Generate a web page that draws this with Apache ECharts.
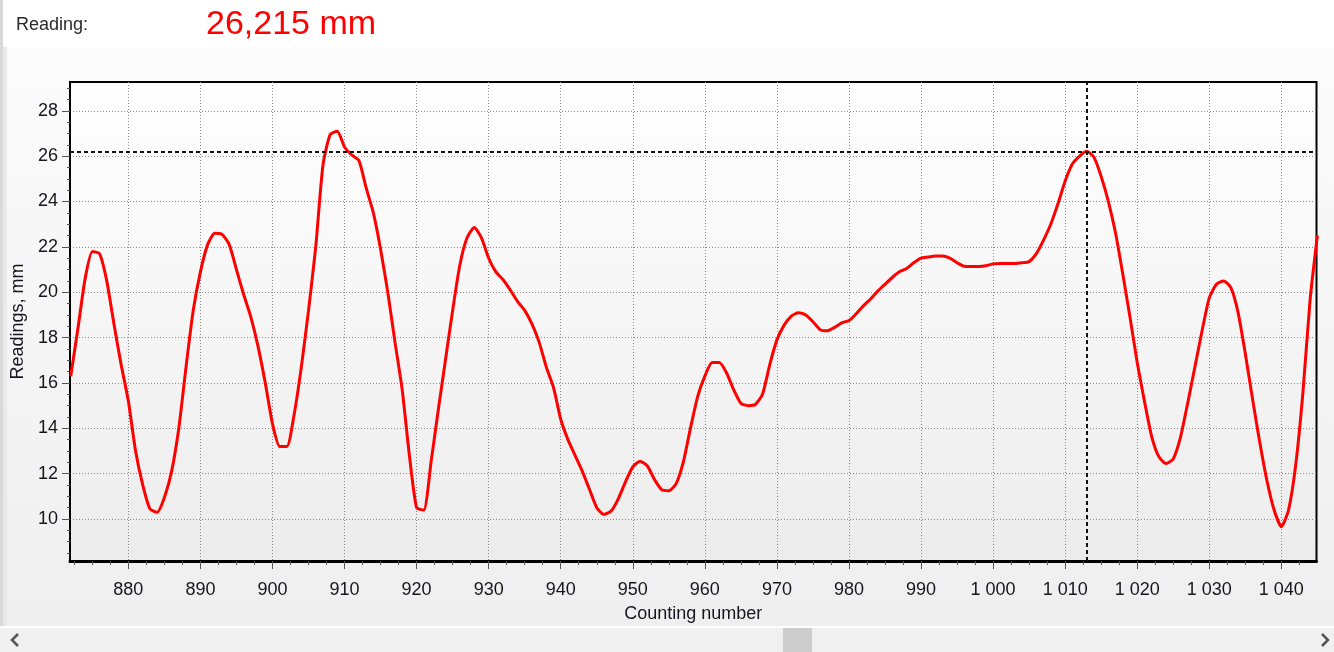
<!DOCTYPE html>
<html>
<head>
<meta charset="utf-8">
<title>Readings</title>
<script src="https://cdn.jsdelivr.net/npm/echarts@6/dist/echarts.min.js"></script>
<style>
  html, body { margin: 0; padding: 0; }
  #chart {
    width: 1334px;
    height: 652px;
    background: linear-gradient(#ffffff 0, #ffffff 47px, #fbfbfb 48px, #efefef 626px);
  }
</style>
</head>
<body>
<div id="chart"></div>
<script>
// counting numbers start here and go up by one per reading
const firstCount = 872;
const readings = [
  16.3, 18.4, 20.6, 21.8, 21.7, 20.5, 18.6, 16.8, 15.2, 13.0,
  11.5, 10.45, 10.3, 10.95, 12.1, 14.0, 16.7, 19.2, 20.9, 22.1,
  22.6, 22.55, 22.1, 21.0, 19.9, 18.9, 17.6, 16.0, 14.2, 13.2,
  13.2, 14.6, 16.7, 19.2, 22.0, 25.6, 26.95, 27.1, 26.4, 26.05,
  25.8, 24.6, 23.5, 21.9, 20.0, 17.8, 15.7, 12.8, 10.5, 10.4,
  12.5, 14.8, 17.0, 19.2, 21.2, 22.4, 22.86, 22.4, 21.5, 20.9,
  20.55, 20.1, 19.6, 19.2, 18.6, 17.8, 16.7, 15.8, 14.4, 13.5,
  12.8, 12.1, 11.3, 10.5, 10.2, 10.35, 10.9, 11.65, 12.3, 12.55,
  12.35, 11.75, 11.3, 11.25, 11.55, 12.5, 14.0, 15.4, 16.3, 16.9,
  16.9, 16.45, 15.7, 15.1, 15.0, 15.05, 15.5, 16.8, 17.9, 18.55,
  18.95, 19.1, 19.0, 18.7, 18.35, 18.3, 18.45, 18.65, 18.75, 19.05,
  19.4, 19.7, 20.05, 20.35, 20.65, 20.9, 21.05, 21.3, 21.5, 21.55,
  21.6, 21.6, 21.5, 21.3, 21.15, 21.14, 21.14, 21.17, 21.25, 21.27,
  21.27, 21.27, 21.3, 21.35, 21.7, 22.3, 23.0, 23.9, 24.9, 25.65,
  26.0, 26.215, 25.95, 25.1, 24.0, 22.6, 20.8, 18.9, 16.9, 15.2,
  13.65, 12.75, 12.45, 12.65, 13.6, 15.1, 16.7, 18.3, 19.75, 20.35,
  20.5, 20.2, 19.1, 17.3, 15.3, 13.4, 11.7, 10.4, 9.66, 10.4,
  12.4, 15.6, 19.7, 22.5
];
const counts = readings.map((_, i) => firstCount + i);

const cursorCount = 1013;
const cursorReading = readings[cursorCount - firstCount];

const xTicks = [880, 890, 900, 910, 920, 930, 940, 950, 960, 970, 980, 990, 1000, 1010, 1020, 1030, 1040];
const yTicks = [10, 12, 14, 16, 18, 20, 22, 24, 26, 28];
const xRange = [871.9, 1044.88];
const yRange = [8.15, 29.27];

// minor ticks: 4 per major step, across the whole visible range
const minorTicks = (ticks, [lo, hi]) => {
  const step = (ticks[1] - ticks[0]) / 4;
  const out = [];
  for (let v = ticks[0] - step * Math.floor((ticks[0] - lo) / step); v <= hi + 1e-9; v += step) {
    if (!ticks.includes(Math.round(v * 100) / 100)) out.push(v);
  }
  return out;
};

const FONT = '"Liberation Sans", Arial, sans-serif';
const TEXT = '#16161e';
const GRID_LINE = { color: '#8a8a8a', type: [1, 2] };

const fmtCount = (v) => String(v).replace(/\B(?=(\d{3})+(?!\d))/g, ' ');
const fmtReading = (v) => v.toFixed(3).replace('.', ',') + ' mm';

const chart = echarts.init(document.getElementById('chart'));

const minorAxis = (extra) => Object.assign({
  type: 'value',
  axisLine: { show: false },
  axisLabel: { show: false },
  splitLine: { show: false },
}, extra);

chart.setOption({
  animation: false,
  textStyle: { fontFamily: FONT },
  title: [
    {
      text: 'Reading:',
      left: 16,
      top: 16,
      padding: 0,
      textStyle: { fontSize: 18, fontWeight: 'normal', color: '#2a2a2a', fontFamily: FONT },
    },
    {
      text: fmtReading(cursorReading),
      left: 206,
      top: 8,
      padding: 0,
      textStyle: { fontSize: 34, fontWeight: 'normal', color: '#ff0000', fontFamily: FONT },
    },
  ],
  grid: {
    left: 70,
    right: 17.5,
    top: 82,
    bottom: 91,
    show: true,
    borderColor: '#000',
    borderWidth: 2,
    backgroundColor: new echarts.graphic.LinearGradient(0, 0, 0, 1, [
      { offset: 0, color: '#ffffff' },
      { offset: 1, color: '#ececec' },
    ]),
  },
  xAxis: [
    {
      type: 'value',
      position: 'bottom',
      min: xRange[0],
      max: xRange[1],
      splitNumber: 17,
      minInterval: 10,
      maxInterval: 10,
      name: 'Counting number',
      nameLocation: 'middle',
      nameGap: 44,
      nameTextStyle: { fontSize: 18, color: TEXT, fontFamily: FONT },
      axisLine: { lineStyle: { color: '#000', width: 3 } },
      axisTick: { customValues: xTicks, length: 8, lineStyle: { color: '#555' } },
      axisLabel: {
        customValues: xTicks,
        margin: 20,
        fontSize: 18,
        color: TEXT,
        formatter: fmtCount,
      },
      splitLine: { lineStyle: GRID_LINE },
    },
    minorAxis({
      position: 'bottom',
      min: xRange[0],
      max: xRange[1],
      axisTick: { customValues: minorTicks(xTicks, xRange), length: 4, lineStyle: { color: '#555' } },
    }),
  ],
  yAxis: [
    {
      type: 'value',
      position: 'left',
      min: yRange[0],
      max: yRange[1],
      splitNumber: 10,
      minInterval: 2,
      maxInterval: 2,
      name: 'Readings, mm',
      nameLocation: 'middle',
      nameGap: 38,
      nameTextStyle: { fontSize: 18, color: TEXT, fontFamily: FONT },
      axisLine: { show: true, lineStyle: { color: '#000', width: 2 } },
      axisTick: { show: true, customValues: yTicks, length: 8, lineStyle: { color: '#555' } },
      axisLabel: { customValues: yTicks, margin: 12, fontSize: 18, color: TEXT },
      splitLine: { lineStyle: GRID_LINE },
    },
    minorAxis({
      position: 'left',
      min: yRange[0],
      max: yRange[1],
      axisTick: { show: true, customValues: minorTicks(yTicks, yRange), length: 3, lineStyle: { color: '#555' } },
    }),
  ],
  series: [
    {
      type: 'line',
      data: counts.map((c, i) => [c, readings[i]]),
      showSymbol: false,
      smooth: 0.2,
      clip: true,
      lineStyle: { color: '#ff0000', width: 3 },
      itemStyle: { color: '#ff0000' },
      markLine: {
        silent: true,
        symbol: ['none', 'none'],
        label: { show: false },
        lineStyle: { color: '#111', width: 2, type: [4, 3] },
        data: [{ yAxis: cursorReading }, { xAxis: cursorCount }],
      },
    },
  ],
  graphic: [
    // window edge and scroll bar
    { type: 'rect', left: 0, top: 0, shape: { width: 3, height: 652 }, style: { fill: '#d9d9d9' }, silent: true },
    { type: 'rect', left: 3, top: 47, shape: { width: 4, height: 580 }, style: { fill: '#e9e9e9' }, silent: true },
    { type: 'rect', left: 0, top: 626, shape: { width: 1334, height: 2 }, style: { fill: '#ffffff' }, silent: true },
    { type: 'rect', left: 0, top: 628, shape: { width: 1334, height: 24 }, style: { fill: '#f0f0f0' }, silent: true },
    { type: 'rect', left: 783, top: 628, shape: { width: 29, height: 24 }, style: { fill: '#cdcdcd' }, silent: true },
    {
      type: 'polyline', silent: true,
      shape: { points: [[18, 634], [12, 640], [18, 646]] },
      style: { stroke: '#555', lineWidth: 2.5, fill: null },
    },
    {
      type: 'polyline', silent: true,
      shape: { points: [[1322, 634], [1328, 640], [1322, 646]] },
      style: { stroke: '#555', lineWidth: 2.5, fill: null },
    },
  ],
});

window.addEventListener('resize', () => chart.resize());
</script>
</body>
</html>
